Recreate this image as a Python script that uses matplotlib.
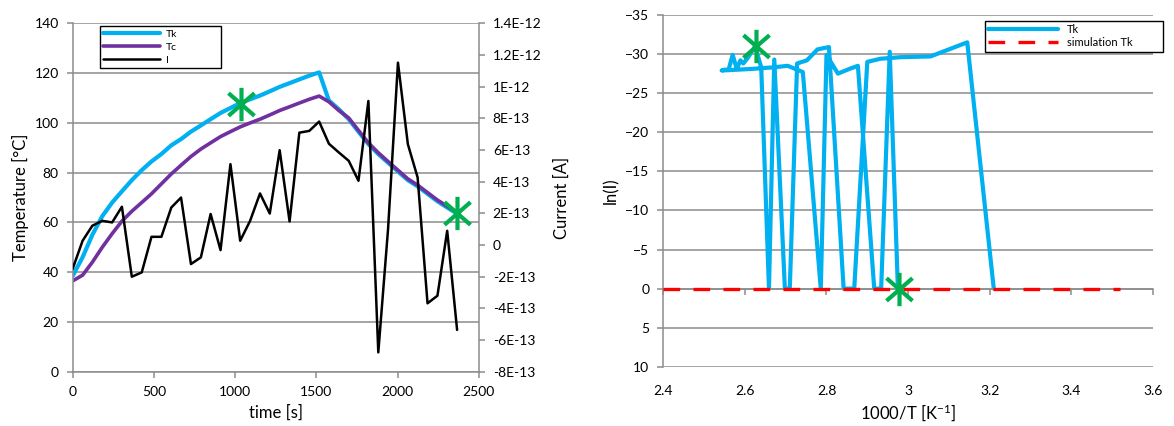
import matplotlib
matplotlib.use('Agg')
import matplotlib.pyplot as plt
from matplotlib.path import Path

# ---- left chart: heating run ----
time_s = [0, 61, 121, 182, 243, 303, 364, 425, 485, 546,
          607, 667, 728, 789, 849, 910, 971, 1031, 1092, 1153,
          1213, 1274, 1335, 1395, 1456, 1517, 1577, 1638, 1699, 1759,
          1820, 1881, 1941, 2002, 2063, 2123, 2184, 2245, 2305, 2366]
tk_c = [38.5, 46, 55, 62.5, 68, 72.5, 77, 81, 84.5, 87.5,
        91, 93.5, 96.5, 99, 101.5, 104, 106, 108, 109.5, 111,
        112.7, 114.5, 116, 117.5, 119, 120.3, 109, 105.5, 101.5, 96.5,
        91.5, 87.5, 84, 80.5, 77, 74.5, 71.5, 68.5, 66, 63.5]
tc_c = [36.5, 38.8, 44, 50, 55.5, 60.5, 64.5, 68, 71.5, 75.5,
        79.5, 83, 86.5, 89.5, 92, 94.5, 96.5, 98.4, 100, 101.5,
        103.2, 105, 106.5, 108, 109.5, 110.8, 108.5, 105, 102, 97,
        92, 88, 84.5, 81, 77.5, 75, 72, 69, 66.5, 64]
# current in units of 1E-13 A
current_e13 = [-1.5, 0.27, 1.22, 1.53, 1.43, 2.42, -2.0, -1.73, 0.52, 0.52,
               2.37, 3.0, -1.2, -0.78, 1.96, -0.32, 5.11, 0.27, 1.53, 3.26,
               1.99, 5.99, 1.49, 7.1, 7.21, 7.8, 6.4, 5.85, 5.32, 4.06,
               9.1, -6.78, 1.0, 11.52, 6.37, 4.27, -3.68, -3.2, 0.9, -5.36]
current_a = [v * 1e-13 for v in current_e13]

star_time = [1033, 2366]
star_temp = [107.8, 63.7]

current_ticks = [-8e-13, -6e-13, -4e-13, -2e-13, 0, 2e-13, 4e-13, 6e-13,
                 8e-13, 1e-12, 1.2e-12, 1.4e-12]
current_labels = ['-8E-13', '-6E-13', '-4E-13', '-2E-13', '0', '2E-13',
                  '4E-13', '6E-13', '8E-13', '1E-12', '1.2E-12', '1.4E-12']

# ---- right chart: ln(I) vs 1000/T ----
inv_t = [3.210, 3.145, 3.055, 2.980, 2.932, 2.900, 2.868, 2.842, 2.806, 2.778,
         2.752, 2.728, 2.710, 2.698, 2.672, 2.659, 2.640, 2.625, 2.607, 2.596,
         2.589, 2.580, 2.570, 2.560, 2.550, 2.543, 2.617, 2.641, 2.669, 2.705,
         2.742, 2.786, 2.800, 2.828, 2.856, 2.877, 2.917, 2.934, 2.955, 2.975]
ln_i = [0, -31.5, -29.7, -29.6, -29.4, -29.0, 0, 0, -30.9, -30.6,
        -29.2, -28.8, 0, 0, -29.3, 0, -28.3, -31.0, -29.5, -28.8,
        -29.2, -28.1, -29.9, -28.0, -28.0, -27.9, -28.1, -28.2, -28.3, -28.5,
        -27.7, 0, -29.9, -27.5, -28.1, -28.5, 0, 0, -30.3, 0]
sim_inv_t = [2.4, 3.52]
sim_ln_i = [0, 0]
star_inv_t = [2.626, 2.978]
star_ln_i = [-31.0, 0.0]
inv_t_ticks = [2.4, 2.6, 2.8, 3.0, 3.2, 3.4, 3.6]
inv_t_labels = ['2.4', '2.6', '2.8', '3', '3.2', '3.4', '3.6']

plt.rcParams['font.family'] = ['Lato', 'DejaVu Sans']
plt.rcParams['mathtext.fontset'] = 'custom'
plt.rcParams['mathtext.rm'] = 'Lato'
plt.rcParams['mathtext.it'] = 'Lato:italic'
plt.rcParams['lines.solid_capstyle'] = 'round'

GRID = '#8c8c8c'
CYAN = '#00b0f0'
PURPLE = '#7030a0'
GREEN = '#00b050'
RED = '#ff0000'

# Excel-like star: a vertical bar crossed by an X
star_path = Path([(0, -1), (0, 1), (-0.78, -0.68), (0.78, 0.68),
                  (-0.78, 0.68), (0.78, -0.68)],
                 [Path.MOVETO, Path.LINETO] * 3)
STAR = dict(ls='none', marker=star_path, ms=24, mec=GREEN, mfc='none', mew=3.0)

fig = plt.figure(figsize=(11.74, 4.26), dpi=100)

# left chart
ax = fig.add_axes([0.0619, 0.1275, 0.346, 0.8175])
ax2 = ax.twinx()
l1, = ax.plot(time_s, tk_c, color=CYAN, lw=3.0, label='Tk')
l2, = ax.plot(time_s, tc_c, color=PURPLE, lw=2.6, label='Tc')
l3, = ax2.plot(time_s, current_a, color='black', lw=1.8, label='I')
ax2.plot(star_time, star_temp, transform=ax.transData, **STAR)

ax.set_xlim(0, 2500)
ax.set_ylim(0, 140)
ax.set_xticks(range(0, 2501, 500))
ax.set_yticks(range(0, 141, 20))
ax2.set_ylim(-8e-13, 1.4e-12)
ax2.set_yticks(current_ticks, labels=current_labels)
ax.grid(axis='y', color=GRID, lw=1.1)
ax.set_axisbelow(True)

for a in (ax, ax2):
    for s in a.spines.values():
        s.set_visible(False)
    a.tick_params(direction='out', length=4, width=1.1, color=GRID,
                  labelsize=10, pad=6)
ax.spines['left'].set_visible(True)
ax.spines['bottom'].set_visible(True)
ax2.spines['right'].set_visible(True)
for s in (ax.spines['left'], ax.spines['bottom'], ax2.spines['right']):
    s.set_color(GRID)
    s.set_linewidth(1.1)

ax.set_ylabel('Temperature [°C]', fontsize=12)
ax.set_xlabel('time [s]', fontsize=12, labelpad=5)
ax2.set_ylabel('Current [A]', fontsize=12, labelpad=9)

leg = ax2.legend([l1, l2, l3], ['Tk', 'Tc', 'I'], loc='upper left',
                 bbox_to_anchor=(0.067, 0.863, 0.298, 0.129), mode='expand',
                 fontsize=7.5, fancybox=False, edgecolor='black', framealpha=1,
                 handlelength=5.5, handletextpad=0.5, labelspacing=0.35,
                 borderpad=0.3, borderaxespad=0)
leg.get_frame().set_linewidth(1.0)

# right chart
bx = fig.add_axes([0.565, 0.139, 0.417, 0.8258])
m1, = bx.plot(inv_t, ln_i, color=CYAN, lw=3.0, label='Tk')
m2, = bx.plot(sim_inv_t, sim_ln_i, color=RED, lw=2.4, ls=(0, (5, 4)),
              label='simulation Tk', zorder=4)
bx.plot(star_inv_t, star_ln_i, zorder=5, **STAR)

bx.set_xlim(2.4, 3.6)
bx.set_ylim(10, -35)
bx.set_yticks(range(-35, 11, 5))
bx.set_xticks(inv_t_ticks)
bx.grid(axis='y', color=GRID, lw=1.1)
bx.set_axisbelow(True)
for k in ('top', 'right'):
    bx.spines[k].set_visible(False)
bx.spines['bottom'].set_position(('data', 0))
for k in ('left', 'bottom'):
    bx.spines[k].set_color(GRID)
    bx.spines[k].set_linewidth(1.1)
bx.tick_params(direction='out', length=4, width=1.1, color=GRID,
               labelsize=10, pad=6)
bx.tick_params(axis='x', labelbottom=False)
bx.set_ylabel('ln(I)', fontsize=12)

sec = bx.secondary_xaxis('bottom')
sec.set_xticks(inv_t_ticks, labels=inv_t_labels)
sec.spines['bottom'].set_visible(False)
sec.tick_params(length=0, labelsize=10, pad=13)
sec.set_xlabel('1000/T [K$^{-1}$]', fontsize=12)

leg2 = bx.legend([m1, m2], ['Tk', 'simulation Tk'], loc='upper left',
                 bbox_to_anchor=(0.657, 0.899, 0.364, 0.085), mode='expand',
                 fontsize=8, fancybox=False, edgecolor='black', framealpha=1,
                 handlelength=6.3, labelspacing=0.2, borderpad=0.3,
                 borderaxespad=0)
leg2.get_frame().set_linewidth(1.0)

fig.savefig('out.png', dpi=100)
